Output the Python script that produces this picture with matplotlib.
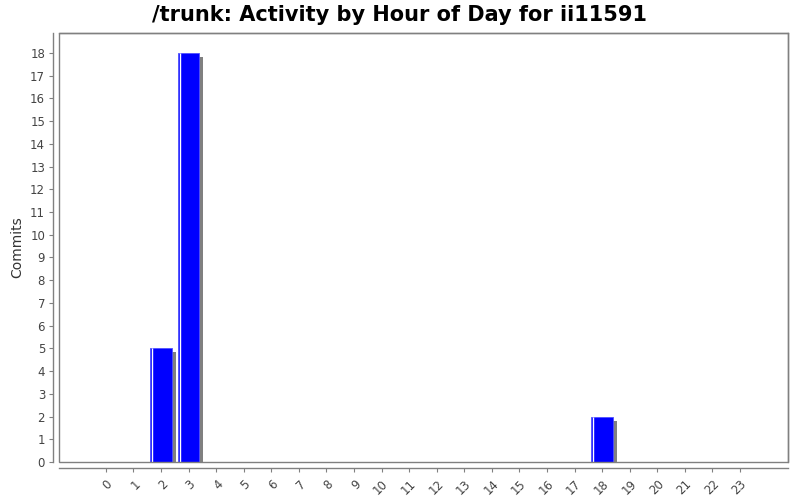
import numpy as np
import matplotlib.pyplot as plt

# commits per hour of day
hours = list(range(24))
commits = [0, 0, 5, 18, 0, 0, 0, 0, 0, 0, 0, 0, 0, 0, 0, 0, 0, 0, 2, 0, 0, 0, 0, 0]
hour_labels = [str(h) for h in hours]
y_ticks = list(range(19))

fig = plt.figure(figsize=(8, 5), dpi=100)
ax = fig.add_axes([59 / 800, 38 / 500, 729 / 800, 429 / 500])

for s in ax.spines.values():
    s.set_color('#808080')
    s.set_linewidth(1)
ax.spines['bottom'].set_position(('outward', 4))
ax.spines['left'].set_position(('outward', 4))

x = np.array(hours, dtype=float)
h = np.array(commits, dtype=float)
mask = h > 0
width = 0.79

# shadow
ax.bar(x[mask] + 0.145, np.maximum(h[mask] - 0.18, 0), width=width, align='center',
       color='#808080', linewidth=0, zorder=2)
# main bars
ax.bar(x[mask], h[mask], width=width, align='center', color='#0000ff',
       edgecolor='#5050ff', linewidth=0.6, zorder=3)
# highlight stripe
for xi, hi in zip(x[mask], h[mask]):
    ax.plot([xi - width / 2 + 0.08] * 2, [0, hi], color='white', lw=1.0, zorder=4,
            solid_capstyle='butt')

ax.set_xlim(-1.70, 24.74)
ax.set_ylim(0, 18.88)
ax.set_xticks(hours)
ax.set_xticklabels(hour_labels, rotation=45, ha='right', rotation_mode='anchor',
                   fontsize=8.5, color='#444444')
ax.set_yticks(y_ticks)
ax.set_yticklabels([str(v) for v in y_ticks], fontsize=8.5, color='#444444')
ax.tick_params(axis='both', color='#808080', length=3, width=0.8)
ax.tick_params(axis='x', pad=4)
ax.tick_params(axis='y', pad=3)

# plot frame (inner box)
frame = plt.Rectangle((0, 0), 1, 1, transform=ax.transAxes, fill=False,
                      edgecolor='#808080', lw=1, zorder=5, clip_on=False)
ax.add_patch(frame)

ax.set_ylabel('Commits', fontsize=10, color='#333333')
fig.text(0.5, 0.99, '/trunk: Activity by Hour of Day for ii11591', ha='center', va='top',
         fontsize=15, fontweight='bold', color='black')

fig.savefig('out.png', dpi=100)
